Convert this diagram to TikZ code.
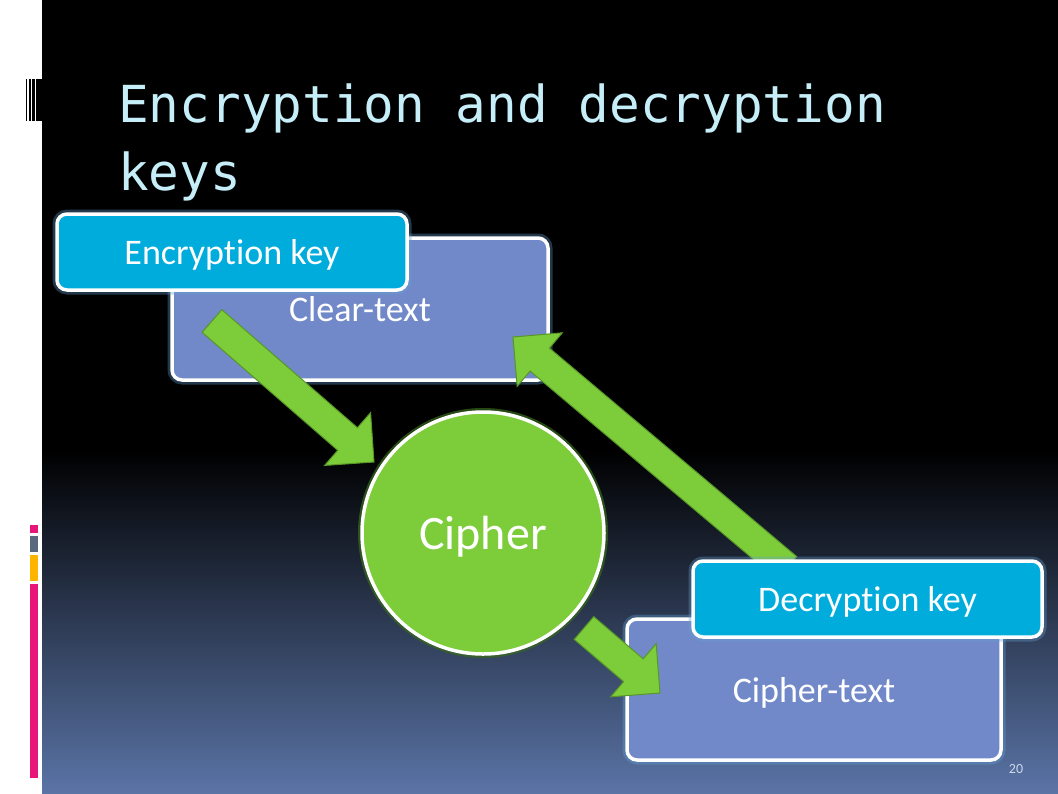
\documentclass[tikz,border=0pt]{standalone}
\usepackage{fontspec}
\setmainfont[Ligatures={NoCommon}]{Carlito}
\newfontfamily\titlefont{DejaVu Sans Mono}
\usetikzlibrary{calc}
\definecolor{keyblue}{RGB}{0,172,220}
\definecolor{textboxc}{RGB}{113,137,200}
\definecolor{ciphgreen}{RGB}{125,205,58}
\definecolor{arrowedge}{RGB}{88,150,40}
\definecolor{circglow}{RGB}{55,105,28}
\definecolor{boxglow}{RGB}{100,160,210}
\definecolor{titlec}{RGB}{198,238,248}
\definecolor{bgbottom}{RGB}{90,116,166}
\definecolor{accpink}{RGB}{232,22,122}
\definecolor{accgray}{RGB}{88,104,126}
\definecolor{accorange}{RGB}{255,180,0}
\definecolor{pagenumc}{RGB}{205,215,235}
\tikzset{
  boxbase/.style={rectangle, rounded corners=10pt, draw=white, line width=3.5pt,
    text=white, inner sep=0pt, text depth=0pt,
    preaction={draw=boxglow, line width=9pt, opacity=0.35},
    font=\fontsize{36}{42}\selectfont},
  keybox/.style={boxbase, fill=keyblue},
  textbox/.style={boxbase, fill=textboxc},
  cipherc/.style={circle, fill=ciphgreen, draw=white, line width=3.5pt, inner sep=0pt,
    text=white, text depth=0pt, preaction={draw=circglow, line width=8pt, opacity=0.7},
    font=\fontsize{48}{56}\selectfont},
  blockarrow/.style={fill=ciphgreen, draw=arrowedge, line width=1pt, line join=miter},
  titlestyle/.style={text=titlec, inner sep=0pt, font=\titlefont\fontsize{51}{60}\selectfont},
}
\newcommand\blockarrow[3]{% tail, tip, neck name
  \coordinate (#3) at ($(#2)!35pt!(#1)$);
  \draw[blockarrow] ($(#1)!15pt!90:(#2)$) -- ($(#3)!15pt!90:(#2)$) -- ($(#3)!35pt!90:(#2)$)
    -- (#2) -- ($(#3)!35pt!-90:(#2)$) -- ($(#3)!15pt!-90:(#2)$) -- ($(#1)!15pt!-90:(#2)$) -- cycle;
}
\begin{document}
\begin{tikzpicture}[x=1pt, y=-1pt]
\useasboundingbox (0,0) rectangle (1058,793);
% background
\fill[white] (0,0) rectangle (42,793);
\fill[black] (42,0) rectangle (1058,450);
\shade[top color=black, bottom color=bgbottom] (42,450) rectangle (1058,793);
% left decorations
\fill[black] (25.5,79) rectangle (27,121);
\fill[black] (28.5,79) rectangle (30.5,121);
\fill[black] (32,79) rectangle (34.5,121);
\fill[black] (36,79) rectangle (42,121);
\fill[accpink] (30,525) rectangle (38,533);
\fill[accgray] (30,536) rectangle (38,552);
\fill[accorange] (30,555) rectangle (38,581);
\fill[accpink] (30,584) rectangle (38,778);
% title
\node[titlestyle, anchor=base west] (title1) at (118,122) {Encryption and decryption};
\node[titlestyle, anchor=base west] (title2) at (118,190) {keys};
% boxes
\node[textbox, minimum width=376pt, minimum height=142pt] (clear) at (360,309) {Clear-text};
\node[keybox, minimum width=350pt, minimum height=76pt] (enckey) at (232,252) {Encryption key};
\node[textbox, minimum width=374pt, minimum height=141pt] (ciphertext) at (814,689.5) {Cipher-text};
% arrows
\coordinate (a1t) at (212,321);
\coordinate (a1h) at (374,462);
\coordinate (a2t) at (787,568);
\coordinate (a2h) at (513,337);
\coordinate (a3t) at (584,628);
\coordinate (a3h) at (660,693);
\blockarrow{a1t}{a1h}{a1n}
\blockarrow{a2t}{a2h}{a2n}
\blockarrow{a3t}{a3h}{a3n}
\node[keybox, minimum width=349pt, minimum height=76pt] (deckey) at (867.5,599) {Decryption key};
\node[cipherc, minimum size=242pt] (cipher) at (483,533) {Cipher};
\node[text=pagenumc, inner sep=0pt, font=\fontsize{14}{16}\selectfont] (pnum) at (1016,769) {20};
\end{tikzpicture}
\end{document}
